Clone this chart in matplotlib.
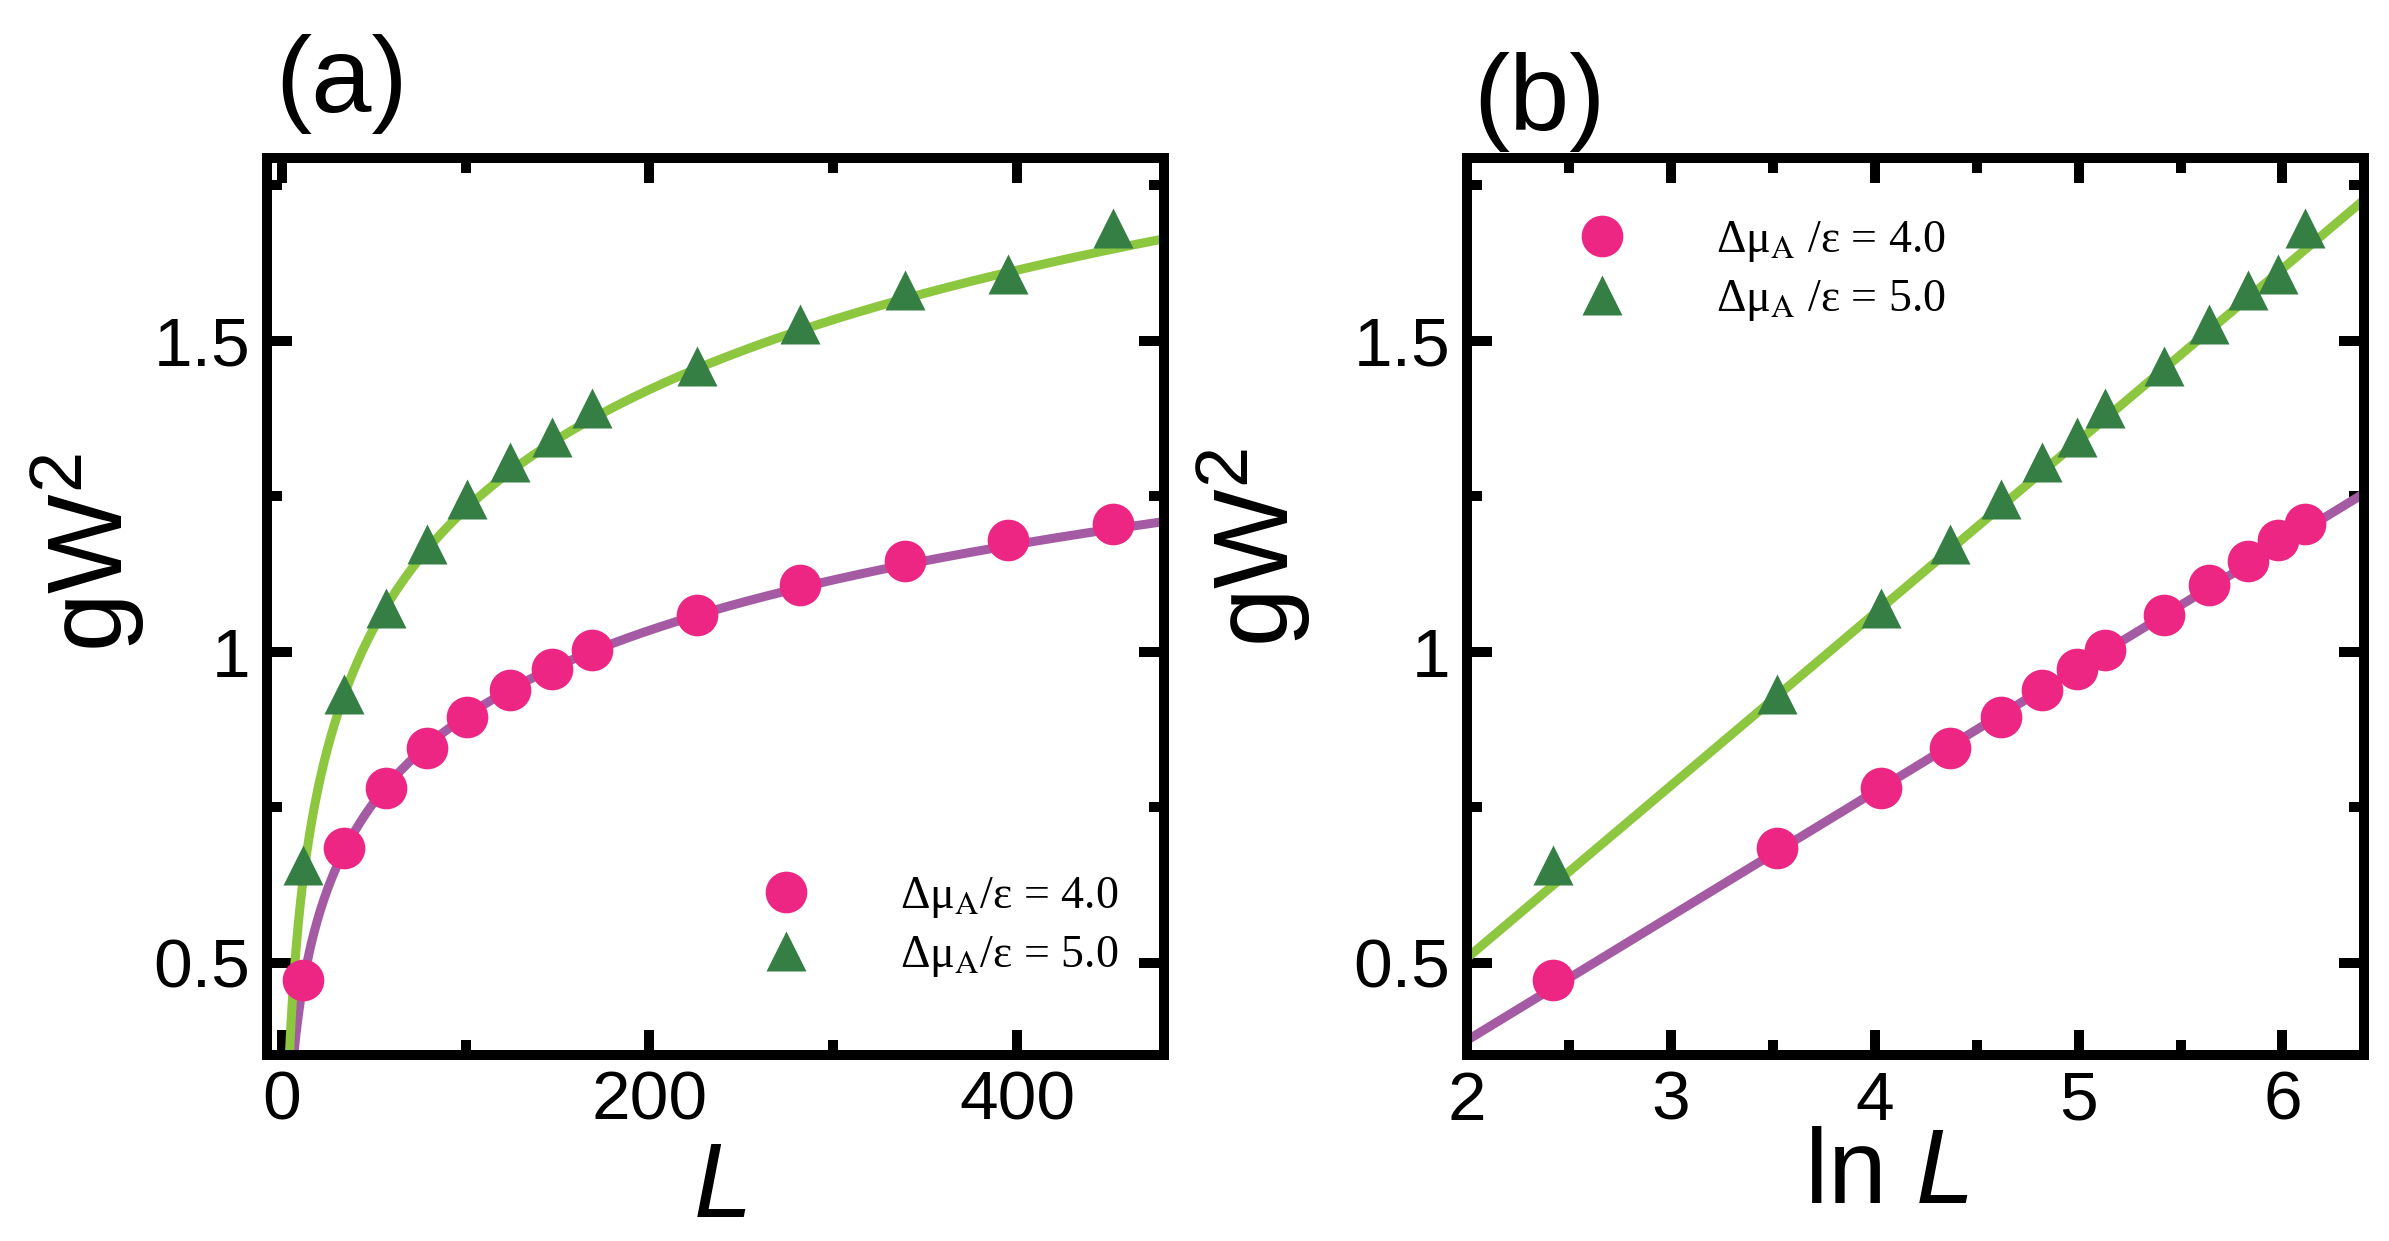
import matplotlib
matplotlib.use('Agg')
import matplotlib.pyplot as plt
from matplotlib.ticker import FixedLocator, MultipleLocator, FuncFormatter
import numpy as np

plt.rcParams['font.family'] = ['Liberation Sans', 'DejaVu Sans']
plt.rcParams['mathtext.fontset'] = 'custom'
plt.rcParams['mathtext.rm'] = 'Liberation Sans'
plt.rcParams['mathtext.it'] = 'Liberation Sans:italic'

# data
L_vals = [11.5, 34, 57, 79, 101, 124, 147, 169, 226, 282, 339, 395, 452]
lnL_vals = [2.42, 3.52, 4.03, 4.37, 4.62, 4.82, 4.99, 5.13, 5.42, 5.64, 5.83, 5.98, 6.11]
gw2_mu4 = [0.472, 0.684, 0.782, 0.845, 0.896, 0.939, 0.973, 1.003, 1.060, 1.108, 1.146, 1.180, 1.206]
gw2_mu5 = [0.657, 0.933, 1.071, 1.174, 1.246, 1.305, 1.345, 1.392, 1.459, 1.527, 1.582, 1.607, 1.682]

# linear fits gW^2 = a + b ln L
fit_mu4 = (-0.024, 0.1998)
fit_mu5 = (-0.046, 0.277)

labels = ['Δμ$_{\\mathrm{A}}$/ε = 4.0', 'Δμ$_{\\mathrm{A}}$/ε = 5.0']
labels_b = ['Δμ$_{\\mathrm{A}}$ /ε = 4.0', 'Δμ$_{\\mathrm{A}}$ /ε = 5.0']

c_pink = '#ED2583'
c_dkgreen = '#357F45'
c_ltgreen = '#8DC63F'
c_purple = '#A55BA3'

W, H = 2389, 1241
fig = plt.figure(figsize=(W / 100, H / 100), dpi=100)
ax_a = fig.add_axes([267 / W, 1 - 1055 / H, 897 / W, 897 / H])
ax_b = fig.add_axes([1467 / W, 1 - 1055 / H, 897 / W, 897 / H])


def style_axes(ax):
    for s in ax.spines.values():
        s.set_linewidth(7.2)
    ax.tick_params(which='both', direction='in', top=True, right=True,
                   width=7.2, labelsize=50)
    ax.tick_params(which='major', length=18)
    ax.tick_params(which='minor', length=11)
    ax.tick_params(axis='x', pad=10.5)
    ax.tick_params(axis='y', pad=12)
    ax.yaxis.set_major_locator(FixedLocator([0.5, 1.0, 1.5]))
    ax.yaxis.set_minor_locator(FixedLocator([0.75, 1.25, 1.75]))
    ax.yaxis.set_major_formatter(FuncFormatter(lambda v, p: '%g' % v))
    ax.set_ylim(0.352, 1.794)


def add_legend(ax, labs, anchor):
    h1, = ax.plot([], [], 'o', ms=30, color=c_pink, mec='none')
    h2, = ax.plot([], [], '^', ms=29, color=c_dkgreen, mec='none')
    leg = ax.legend([h1, h2], labs, loc='center left', bbox_to_anchor=anchor,
                    frameon=False, borderpad=0, borderaxespad=0,
                    handlelength=1.9, handletextpad=1.55, labelspacing=0.3,
                    prop={'family': 'Liberation Serif', 'size': 33})
    for t in leg.get_texts():
        t.set_math_fontfamily('stix')
    return leg


# panel (a): gW^2 vs L
Lc = np.linspace(1, 490, 800)
ax_a.plot(Lc, fit_mu4[0] + fit_mu4[1] * np.log(Lc), color=c_purple, lw=6.5, zorder=2)
ax_a.plot(Lc, fit_mu5[0] + fit_mu5[1] * np.log(Lc), color=c_ltgreen, lw=6.5, zorder=2)
ax_a.plot(L_vals, gw2_mu4, 'o', ms=30, color=c_pink, mec='none', zorder=3)
ax_a.plot(L_vals, gw2_mu5, '^', ms=29, color=c_dkgreen, mec='none', zorder=3)
style_axes(ax_a)
ax_a.set_xlim(-8, 480)
ax_a.xaxis.set_major_locator(FixedLocator([0, 200, 400]))
ax_a.xaxis.set_minor_locator(FixedLocator([100, 300]))
ax_a.set_xlabel(r'$L$', fontsize=76)
ax_a.xaxis.set_label_coords(0.505, -0.095)
ax_a.set_ylabel(r'$\mathrm{gW}^{2}$', fontsize=76)
ax_a.yaxis.set_label_coords(-0.134, 0.56)
add_legend(ax_a, labels, (0.5295, 0.143))

# panel (b): gW^2 vs ln L
xc = np.linspace(1.9, 6.5, 100)
ax_b.plot(xc, fit_mu4[0] + fit_mu4[1] * xc, color=c_purple, lw=6.5, zorder=2)
ax_b.plot(xc, fit_mu5[0] + fit_mu5[1] * xc, color=c_ltgreen, lw=6.5, zorder=2)
ax_b.plot(lnL_vals, gw2_mu4, 'o', ms=30, color=c_pink, mec='none', zorder=3)
ax_b.plot(lnL_vals, gw2_mu5, '^', ms=29, color=c_dkgreen, mec='none', zorder=3)
style_axes(ax_b)
ax_b.set_xlim(2, 6.4)
ax_b.xaxis.set_major_locator(MultipleLocator(1))
ax_b.xaxis.set_minor_locator(MultipleLocator(0.5))
ax_b.set_xlabel(r'$\mathrm{ln}\ L$', fontsize=76)
ax_b.xaxis.set_label_coords(0.468, -0.079)
ax_b.set_ylabel(r'$\mathrm{gW}^{2}$', fontsize=76)
ax_b.yaxis.set_label_coords(-0.172, 0.565)
add_legend(ax_b, labels_b, (0.1015, 0.874))

fig.text(275 / W, 1 - 112 / H, '(a)', fontsize=78, va='baseline', ha='left')
fig.text(1473 / W, 1 - 130 / H, '(b)', fontsize=78, va='baseline', ha='left')

fig.savefig('out.png', dpi=100)
